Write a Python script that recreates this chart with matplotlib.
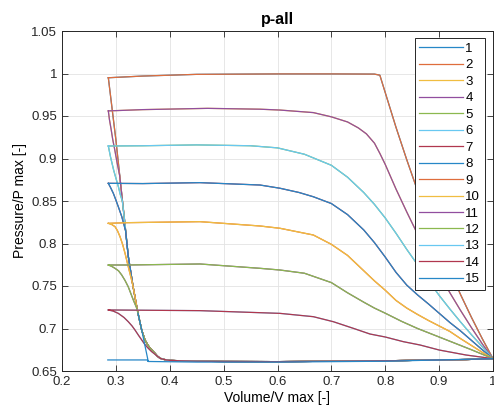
import numpy as np
import matplotlib
matplotlib.use("Agg")
import matplotlib.pyplot as plt
from matplotlib.colors import to_rgb

plt.rcParams["font.family"] = ["Liberation Sans", "DejaVu Sans"]

# MATLAB default line colours
colors = ["#0072BD", "#D95319", "#EDB120", "#7E2F8E", "#77AC30", "#4DBEEE", "#A2142F"]
labels = [str(i) for i in range(1, 16)]

# shared bottom line (from V=1 back to the compression start)
bottom_x = [1.0, 0.95, 0.9, 0.8, 0.7, 0.6, 0.5, 0.45, 0.42, 0.40]
bottom_y = [0.6645, 0.6635, 0.663, 0.662, 0.6615, 0.661, 0.6612, 0.6615, 0.662, 0.6625]

# shared compression line (bottom -> top)
comp_x = [0.394, 0.388, 0.382, 0.377, 0.372, 0.367, 0.362, 0.358, 0.354, 0.348, 0.341, 0.332, 0.323, 0.316, 0.300, 0.286]
comp_y = [0.663, 0.6638, 0.665, 0.6675, 0.6712, 0.6745, 0.678, 0.682, 0.6865, 0.698, 0.718, 0.749, 0.785, 0.828, 0.922, 0.995]

# expansion (upper) lines, one per loop
top_a_x = [0.286, 0.35, 0.45, 0.6, 0.7, 0.78, 0.79, 0.80, 0.82, 0.84, 0.86, 0.88, 0.90, 0.92, 0.94, 0.96, 0.98, 1.0]
top_a_y = [0.995, 0.997, 0.999, 0.9995, 0.9995, 0.9993, 0.998, 0.9775, 0.9366, 0.8984, 0.862, 0.8289, 0.7973, 0.7676, 0.7396, 0.7131, 0.6881, 0.6645]
top_b_x = [0.286, 0.35, 0.47, 0.5675, 0.6046, 0.6665, 0.70, 0.73, 0.75, 0.765, 0.78, 0.79, 0.80, 0.82, 0.84, 0.86, 0.88, 0.90, 0.92, 0.94, 0.96, 0.98, 1.0]
top_b_y = [0.956, 0.9575, 0.959, 0.958, 0.957, 0.954, 0.949, 0.943, 0.936, 0.929, 0.918, 0.906, 0.893, 0.864, 0.837, 0.811, 0.787, 0.764, 0.742, 0.721, 0.701, 0.682, 0.6645]
top_c_x = [0.286, 0.35, 0.45, 0.55, 0.60, 0.65, 0.70, 0.73, 0.76, 0.78, 0.80, 0.82, 0.84, 0.86, 0.88, 0.90, 0.92, 0.94, 0.96, 0.98, 1.0]
top_c_y = [0.9147, 0.915, 0.916, 0.915, 0.9125, 0.905, 0.892, 0.878, 0.860, 0.846, 0.830, 0.812, 0.793, 0.775, 0.7565, 0.739, 0.7229, 0.7075, 0.6927, 0.6786, 0.6645]
top_d_x = [0.286, 0.35, 0.456, 0.5675, 0.6046, 0.64, 0.6665, 0.70, 0.73, 0.76, 0.78, 0.80, 0.82, 0.84, 0.86, 0.88, 0.90, 0.92, 0.94, 0.96, 0.98, 1.0]
top_d_y = [0.8708, 0.8705, 0.8716, 0.8688, 0.865, 0.860, 0.855, 0.847, 0.834, 0.816, 0.801, 0.784, 0.766, 0.751, 0.7395, 0.729, 0.718, 0.707, 0.697, 0.686, 0.675, 0.6645]
top_e_x = [0.286, 0.32, 0.456, 0.5675, 0.6046, 0.6665, 0.70, 0.73, 0.76, 0.78, 0.80, 0.82, 0.84, 0.86, 0.88, 0.90, 0.92, 0.94, 0.96, 0.98, 1.0]
top_e_y = [0.8237, 0.8245, 0.8257, 0.8206, 0.8179, 0.81, 0.799, 0.786, 0.768, 0.756, 0.745, 0.733, 0.724, 0.7165, 0.7095, 0.703, 0.6965, 0.688, 0.680, 0.672, 0.6645]
top_f_x = [0.286, 0.32, 0.456, 0.5675, 0.6046, 0.65, 0.70, 0.73, 0.76, 0.78, 0.80, 0.83, 0.86, 0.90, 0.93, 0.96, 1.0]
top_f_y = [0.7747, 0.7747, 0.7759, 0.7708, 0.7688, 0.765, 0.754, 0.742, 0.731, 0.724, 0.718, 0.7085, 0.700, 0.690, 0.6825, 0.675, 0.6645]
top_g_x = [0.286, 0.35, 0.456, 0.5675, 0.6046, 0.6665, 0.7036, 0.7407, 0.7717, 0.80, 0.8336, 0.8645, 0.90, 0.95, 1.0]
top_g_y = [0.7218, 0.7215, 0.721, 0.7186, 0.7178, 0.7139, 0.708, 0.7002, 0.6935, 0.690, 0.6845, 0.6806, 0.6747, 0.6688, 0.6645]

# branch from the shared compression line up to each loop's corner
br_a_x, br_a_y = [], []
br_b_x = [0.307, 0.302, 0.298, 0.294, 0.291, 0.288, 0.286]
br_b_y = [0.880, 0.896, 0.910, 0.923, 0.935, 0.946, 0.956]
br_c_x = [0.312, 0.308, 0.305, 0.300, 0.296, 0.290, 0.286]
br_c_y = [0.850, 0.858, 0.866, 0.877, 0.886, 0.902, 0.9147]
br_d_x = [0.318, 0.311, 0.3045, 0.2995, 0.2953, 0.290, 0.286]
br_d_y = [0.815, 0.8315, 0.8433, 0.852, 0.859, 0.866, 0.8708]
br_e_x = [0.330, 0.323, 0.317, 0.3125, 0.3077, 0.303, 0.2984, 0.292, 0.286]
br_e_y = [0.755, 0.7727, 0.7885, 0.799, 0.808, 0.815, 0.8198, 0.8225, 0.8237]
br_f_x = [0.340, 0.3324, 0.323, 0.317, 0.3108, 0.305, 0.2984, 0.292, 0.286]
br_f_y = [0.722, 0.7335, 0.749, 0.7565, 0.763, 0.7678, 0.7708, 0.7732, 0.7747]
br_g_x = [0.372, 0.366, 0.3602, 0.354, 0.348, 0.342, 0.3355, 0.330, 0.323, 0.315, 0.3045, 0.295, 0.286]
br_g_y = [0.670, 0.673, 0.6767, 0.681, 0.6865, 0.692, 0.6982, 0.703, 0.708, 0.713, 0.7178, 0.7205, 0.7218]

# lowest loop (no pressure rise)
low_x = [0.341, 0.348, 0.360, np.nan, 0.285, 0.358, 0.360, 0.45, 0.6, 0.8, 1.0]
low_y = [0.718, 0.698, 0.6615, np.nan, 0.663, 0.663, 0.6612, 0.6605, 0.6605, 0.6615, 0.6645]


def loop(tx, ty, bx, by):
    # corner -> expansion -> bottom -> compression -> corner
    if bx:
        n = [i for i, y in enumerate(comp_y) if y < by[0]]
        cx = [comp_x[i] for i in n] + list(bx)
        cy = [comp_y[i] for i in n] + list(by)
    else:
        cx, cy = comp_x, comp_y
    return list(tx) + bottom_x + cx, list(ty) + bottom_y + cy


def soften(c, f=0.15):
    # the screenshot looks a bit washed out
    r, g, b = to_rgb(c)
    return (r + (1 - r) * f, g + (1 - g) * f, b + (1 - b) * f)


loops = [
    loop(top_a_x, top_a_y, br_a_x, br_a_y),
    loop(top_b_x, top_b_y, br_b_x, br_b_y),
    loop(top_c_x, top_c_y, br_c_x, br_c_y),
    loop(top_d_x, top_d_y, br_d_x, br_d_y),
    loop(top_e_x, top_e_y, br_e_x, br_e_y),
    loop(top_f_x, top_f_y, br_f_x, br_f_y),
    loop(top_g_x, top_g_y, br_g_x, br_g_y),
]
# curves 1..14 come in pairs on the same loop, 15 is the flat one
curves = [loops[i // 2] for i in range(14)] + [(low_x, low_y)]

fig = plt.figure(figsize=(4.94, 4.13), dpi=100)
ax = fig.add_axes([62 / 494, 1 - 371 / 413, 431 / 494, 340 / 413])

for i, (x, y) in enumerate(curves):
    ax.plot(x, y, color=soften(colors[i % 7]), lw=0.9, label=labels[i])

ax.set_xlim(0.2, 1.0)
ax.set_ylim(0.65, 1.05)
xt = [0.2, 0.3, 0.4, 0.5, 0.6, 0.7, 0.8, 0.9, 1.0]
yt = [0.65, 0.7, 0.75, 0.8, 0.85, 0.9, 0.95, 1.0, 1.05]
ax.set_xticks(xt)
ax.set_xticklabels(["%g" % v for v in xt])
ax.set_yticks(yt)
ax.set_yticklabels(["%g" % v for v in yt])
ax.tick_params(direction="in", length=4, width=0.6, top=True, right=True,
               labelsize=9.5, colors="#262626")
ax.grid(True, color="#e3e3e3", lw=0.6)
ax.set_axisbelow(True)
for s in ax.spines.values():
    s.set_color("#262626")
    s.set_linewidth(0.7)

ax.set_title("p-all", fontsize=11.5, fontweight="bold", pad=5)
ax.set_xlabel("Volume/V max [-]", fontsize=10, labelpad=2)
ax.set_ylabel("Pressure/P max [-]", fontsize=10, labelpad=3)

leg = ax.legend(loc="upper right", bbox_to_anchor=(0.981, 0.979), fontsize=9.5,
                handlelength=3.3, handletextpad=0.2, labelspacing=0.32,
                borderpad=0.35, borderaxespad=0, fancybox=False, framealpha=1)
leg.get_frame().set_edgecolor("#262626")
leg.get_frame().set_linewidth(0.7)

fig.savefig("out.png", dpi=100)
